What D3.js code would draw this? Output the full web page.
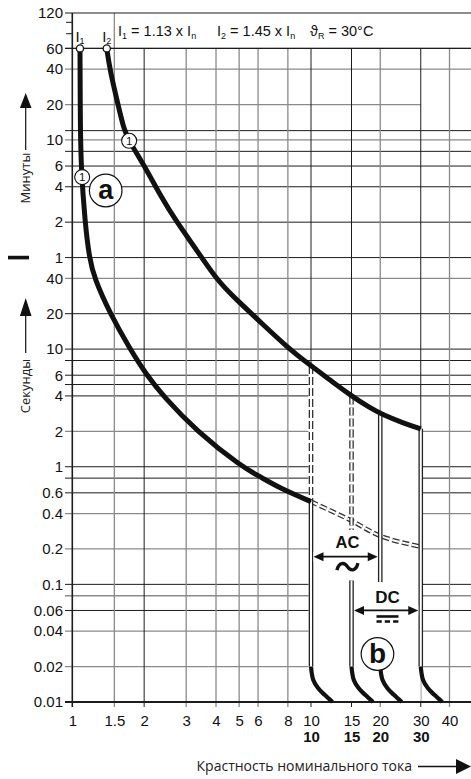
<!DOCTYPE html>
<html><head><meta charset="utf-8">
<script src="https://cdn.jsdelivr.net/npm/d3@7/dist/d3.min.js"></script>
<style>
html,body{margin:0;padding:0;background:#fff;}
svg{display:block;}
.num{font-family:"Liberation Sans",Arial,Helvetica,sans-serif;}
.hum{font-family:"Open Sans","Noto Sans",sans-serif;}
</style></head><body>
<svg id="chart" width="471" height="779"></svg>
<script>
// ---------------- data ----------------
const xTickValues   = [1,1.5,2,3,4,5,6,8,10,15,20,30,40];
const xRatedValues  = [10,15,20,30];
const minuteLabels  = [120,60,40,20,10,6,4,2,1];
const minuteMinor   = [100,80];
const secondLabels  = [40,20,10,6,4,2,1,0.6,0.4,0.2,0.1,0.06,0.04,0.02,0.01];
const gridDarkSec   = [3600,720,480,360,240,120,60,20,10,8,6,5,4,1,0.8,0.6,0.1,0.06];
const gridLightSec  = [2400,1200,600,40,2,0.4,0.2,0.08,0.04,0.02];
const gridDarkX     = [2,10,15,30];
const gridLightX    = [1.5,3,4,5,6,8,20,40];

// tripping curves (multiple of In, seconds)
const lowerI = [1.077,1.08,1.087,1.13,1.178,1.236,1.44,1.745,2.05,2.40,3.32,5.13,6.11,7.41,10];
const lowerT = [3600,889,360,120,60,40,20,10,6,4,2,1,0.824,0.657,0.505];
const upperI = [1.394,1.439,1.554,1.647,1.728,2.05,2.33,2.737,3.32,4.03,4.88,6.01,7.91,10,12.09,14.77,18.05,20.55,25.1,30];
const upperT = [3600,2335,1200,731,589,334,205,120,69.7,38.7,26.2,17.7,10.44,7.2,5.47,4.08,3.16,2.76,2.36,2.10];
const acDashI = [10,14.77,20.3,30];
const acDashT = [0.505,0.353,0.255,0.209];

// instantaneous trip lines
const solidI      = [10,15,20,30];
const solidTopT   = [0.505,0.108,2.75,2.10];
const solidBotT   = [0.02,0.02,0.105,0.02];
const dashedI     = [10,15];
const dashedTopT  = [7.2,3.95];
const dashedBotT  = [0.505,0.29];
const tailI       = [10,15,20,30];
const tailRatio   = [1,1.023,1.075,1.146,1.24];
const tailT       = [0.02,0.0154,0.0131,0.0115,0.01];

// annotation anchors (In multiple, seconds)
const oneMarkI = [1.1,1.73];
const oneMarkT = [290,590];
const curveIds = [1,2];
const labelA = [1.38,223];
const labelB = [19.45,0.0256];
const acText = [14.4,0.203];
const acTilde = [14.4,0.1414];
const acArrow = [10,20,0.172];
const dcText = [21.5,0.0699];
const dcArrow = [15,30,0.06];
const dcSymbol = [21.5,0.0508];

// ---------------- chart ----------------
const W = 471, H = 779;
const svg = d3.select("#chart");
const x = d3.scaleLog().domain([1,10,40]).range([72.3,311,449.5]);
const y = d3.scaleLog().domain([0.01,7200]).range([702,13]);
const xLeft = 65, xRight = W;
const DARK = "#1c1c1c", GREY = "#8a8a8a";

// horizontal grid
const gH = svg.append("g");
gH.selectAll("line.hd").data(gridDarkSec).join("line")
  .attr("x1",xLeft).attr("x2",xRight).attr("y1",d=>y(d)).attr("y2",d=>y(d))
  .attr("stroke",DARK).attr("stroke-width",1);
gH.selectAll("line.hl").data(gridLightSec).join("line")
  .attr("x1",xLeft).attr("x2",d=>d===1200?x(30):xRight).attr("y1",d=>y(d)).attr("y2",d=>y(d))
  .attr("stroke",GREY).attr("stroke-width",1.3);
gH.selectAll("line.hm").data(minuteMinor).join("line")
  .attr("x1",xLeft+1).attr("x2",x(1)).attr("y1",d=>y(d*60)).attr("y2",d=>y(d*60))
  .attr("stroke",DARK).attr("stroke-width",1);

// vertical grid
const gV = svg.append("g");
gV.selectAll("line.vd").data(gridDarkX).join("line")
  .attr("x1",d=>x(d)).attr("x2",d=>x(d)).attr("y1",y(3600)).attr("y2",y(0.01)+5)
  .attr("stroke",DARK).attr("stroke-width",1);
gV.selectAll("line.vl").data(gridLightX).join("line")
  .attr("x1",d=>x(d)).attr("x2",d=>x(d)).attr("y1",d=>d===1.5?y(7200):y(3600)).attr("y2",y(0.01)+5)
  .attr("stroke",GREY).attr("stroke-width",1.3);

// curve generator
const lineGen = d3.line().x(d=>x(d[0])).y(d=>y(d[1])).curve(d3.curveBasis);
const upperPts = upperI.map((v,i)=>[v,upperT[i]]);

// white region under upper curve between 10 and 30
const upPart = upperPts.filter(d=>d[0]>=10);
const regionPath = lineGen(upPart) + `L${x(30)},${y(0.01)-1}L${x(10)-2.5},${y(0.01)-1}L${x(10)-2.5},${y(upPart[0][1])}Z`;
svg.append("path").attr("d",regionPath).attr("fill","#fff");

// header top border and axes
svg.append("line").attr("x1",xLeft).attr("x2",xRight).attr("y1",y(7200)).attr("y2",y(7200))
  .attr("stroke",DARK).attr("stroke-width",1.2);
svg.append("line").attr("x1",xLeft).attr("x2",xRight).attr("y1",y(3600)).attr("y2",y(3600))
  .attr("stroke",DARK).attr("stroke-width",1.2);
svg.append("line").attr("x1",x(1)).attr("x2",x(1)).attr("y1",y(7200)).attr("y2",y(0.01)+5)
  .attr("stroke",DARK).attr("stroke-width",1.6);
svg.append("line").attr("x1",xLeft).attr("x2",xRight).attr("y1",y(0.01)).attr("y2",y(0.01))
  .attr("stroke",DARK).attr("stroke-width",2);

// y labels
const yl = svg.append("g").attr("class","num").attr("font-size",15).attr("fill","#111").attr("text-anchor","end");
yl.selectAll("text.m").data(minuteLabels).join("text")
  .attr("x",63).attr("y",d=>y(d*60)+5.3).text(d=>d);
yl.selectAll("text.s").data(secondLabels).join("text")
  .attr("x",63).attr("y",d=>y(d)+5.3).text(d=>d);

// x labels
const xl = svg.append("g").attr("class","num").attr("fill","#111").attr("text-anchor","middle");
xl.selectAll("text.x").data(xTickValues).join("text")
  .attr("x",d=>x(d)+0.5).attr("y",725.5).attr("font-size",15).text(d=>d);
xl.selectAll("text.r").data(xRatedValues).join("text")
  .attr("x",d=>x(d)+0.5).attr("y",741.5).attr("font-size",15).attr("font-weight","bold").text(d=>d);

const gc = svg.append("g").attr("fill","none").attr("stroke-linecap","butt");

// dashed double curve
const dashPts = acDashI.map((v,i)=>[v,acDashT[i]]);
const dashGen = d3.line().x(d=>x(d[0])).y(d=>y(d[1])).curve(d3.curveCatmullRom);
gc.append("path").attr("d",dashGen(dashPts))
  .attr("stroke","#333").attr("stroke-width",4.6).attr("stroke-dasharray","7,3");
gc.append("path").attr("d",dashGen(dashPts))
  .attr("stroke","#fff").attr("stroke-width",2.0).attr("stroke-dasharray","7,3");

// dashed double verticals
dashedI.forEach((v,i)=>{
  [["#333",4.6],["#fff",2.0]].forEach(s=>{
    gc.append("line").attr("x1",x(v)).attr("x2",x(v)).attr("y1",y(dashedTopT[i])).attr("y2",y(dashedBotT[i]))
      .attr("stroke",s[0]).attr("stroke-width",s[1]).attr("stroke-dasharray","8,3");
  });
});
// solid double verticals
solidI.forEach((v,i)=>{
  [["#222",4.6],["#fff",2.0]].forEach(s=>{
    gc.append("line").attr("x1",x(v)).attr("x2",x(v)).attr("y1",y(solidTopT[i])).attr("y2",y(solidBotT[i]))
      .attr("stroke",s[0]).attr("stroke-width",s[1]);
  });
});
// tails
const tailGen = d3.line().x(d=>x(d[0])).y(d=>y(d[1])).curve(d3.curveCatmullRom.alpha(0.5));
tailI.forEach(v=>{
  gc.append("path").attr("d",tailGen(tailRatio.map((r,i)=>[v*r,tailT[i]])))
    .attr("stroke","#111").attr("stroke-width",4.2);
});
// main curves
gc.append("path").attr("d",lineGen(lowerI.map((v,i)=>[v,lowerT[i]])))
  .attr("stroke","#111").attr("stroke-width",5);
gc.append("path").attr("d",lineGen(upperPts))
  .attr("stroke","#111").attr("stroke-width",5);

// start circles and I1/I2 labels
const starts = [[lowerI[0],lowerT[0]],[upperI[0],upperT[0]]];
svg.selectAll("circle.st").data(starts).join("circle")
  .attr("cx",d=>x(d[0])).attr("cy",d=>y(d[1])).attr("r",3.6)
  .attr("fill","#fff").attr("stroke","#111").attr("stroke-width",1.3);
const il = svg.selectAll("text.il").data(starts).join("text").attr("class","num")
  .attr("x",d=>x(d[0])).attr("y",41.5).attr("text-anchor","middle").attr("font-size",15).attr("fill","#111");
il.append("tspan").text("I");
il.append("tspan").attr("font-size",9).attr("dy",2.5).text((d,i)=>curveIds[i]);

// header text
function header(xp, parts){
  const t = svg.append("text").attr("class","num").attr("x",xp).attr("y",36).attr("font-size",14.5).attr("fill","#111");
  parts.forEach(p=>{
    if(p.sub){ t.append("tspan").attr("font-size",9).attr("dy",2.5).text(p.s); }
    else { t.append("tspan").attr("dy",p.after? -2.5:0).text(p.s); }
  });
}
header(118,[{s:"I"},{s:"1",sub:true},{s:" = 1.13 x I",after:true},{s:"n",sub:true}]);
header(217,[{s:"I"},{s:"2",sub:true},{s:" = 1.45 x I",after:true},{s:"n",sub:true}]);
header(310,[{s:"\u03D1"},{s:"R",sub:true},{s:" = 30°C",after:true}]);

// circled 1 markers
const om = svg.selectAll("g.om").data(oneMarkI.map((v,i)=>[v,oneMarkT[i]])).join("g")
  .attr("transform",d=>`translate(${x(d[0])},${y(d[1])})`);
om.append("circle").attr("r",7.5).attr("fill","#fff").attr("stroke","#111").attr("stroke-width",1.1);
om.append("text").attr("class","num").attr("text-anchor","middle").attr("y",4).attr("font-size",11.5).attr("fill","#111").text("1");

// big a / b labels
[[labelA,"a"],[labelB,"b"]].forEach(([p,s])=>{
  const g = svg.append("g").attr("transform",`translate(${x(p[0])},${y(p[1])})`);
  g.append("circle").attr("r",16.3).attr("fill","#fff").attr("stroke","#111").attr("stroke-width",1.2);
  g.append("text").attr("class","num").attr("text-anchor","middle").attr("y",s==="a"?8:9)
    .attr("font-size",s==="a"?27:28).attr("font-weight","bold").attr("fill","#111").text(s);
});

// AC / DC annotations
function dblArrow(x1,x2,yy){
  const g = svg.append("g");
  g.append("rect").attr("x",x1).attr("y",yy-5).attr("width",x2-x1).attr("height",10).attr("fill","#fff");
  g.append("line").attr("x1",x1+6).attr("x2",x2-6).attr("y1",yy).attr("y2",yy).attr("stroke","#111").attr("stroke-width",1.8);
  g.append("path").attr("d",`M${x1},${yy} l10,-4.5 l0,9 z M${x2},${yy} l-10,-4.5 l0,9 z`).attr("fill","#111");
}
dblArrow(x(acArrow[0])+2.5,x(acArrow[1])-2.5,y(acArrow[2]));
dblArrow(x(dcArrow[0])+2.5,x(dcArrow[1])-2.5,y(dcArrow[2]));
svg.append("text").attr("class","num").attr("x",x(acText[0])).attr("y",y(acText[1]))
  .attr("text-anchor","middle").attr("font-size",16.5).attr("font-weight","bold").attr("fill","#111").text("AC");
svg.append("text").attr("class","num").attr("x",x(dcText[0])).attr("y",y(dcText[1]))
  .attr("text-anchor","middle").attr("font-size",17).attr("font-weight","bold").attr("fill","#111").text("DC");
svg.append("path").attr("transform",`translate(${x(acTilde[0])},${y(acTilde[1])})`)
  .attr("d","M-10.5,3.5 C-8.5,-5 -3,-4.5 0,0 C3,4.5 8.5,5 10.5,-3.5").attr("fill","none").attr("stroke","#111").attr("stroke-width",3.4);
const ds = svg.append("g").attr("transform",`translate(${x(dcSymbol[0])},${y(dcSymbol[1])})`);
ds.append("line").attr("x1",-11).attr("x2",11).attr("y1",-2.5).attr("y2",-2.5).attr("stroke","#111").attr("stroke-width",2.6);
ds.append("line").attr("x1",-11).attr("x2",11).attr("y1",2.5).attr("y2",2.5).attr("stroke","#111").attr("stroke-width",2.6).attr("stroke-dasharray","5.3,3");

// y titles
function yTitle(txt, cy, tipY, baseY, lineEnd){
  svg.append("text").attr("class","hum").attr("transform",`translate(29.5,${cy}) rotate(-90)`)
    .attr("text-anchor","middle").attr("font-size",13).attr("fill","#222").text(txt);
  svg.append("line").attr("x1",25.7).attr("x2",25.7).attr("y1",baseY).attr("y2",lineEnd).attr("stroke","#111").attr("stroke-width",1.2);
  svg.append("path").attr("d",`M25.7,${tipY} L31.5,${baseY} L19.9,${baseY} Z`).attr("fill","#111");
}
yTitle("Минуты",178,93,108,150);
yTitle("Секунды",386,298,316,353);
svg.append("rect").attr("x",8).attr("y",y(60)-1.8).attr("width",21).attr("height",3.6).attr("fill","#111");

// x title
svg.append("text").attr("class","hum").attr("x",412).attr("y",771).attr("text-anchor","end")
  .attr("font-size",14).attr("fill","#222").text("Крастность номинального тока");
svg.append("line").attr("x1",418).attr("x2",460).attr("y1",766.5).attr("y2",766.5).attr("stroke","#111").attr("stroke-width",1.3);
svg.append("path").attr("d","M471,766.5 L456,759 L456,774 Z").attr("fill","#111");
</script>
</body></html>
